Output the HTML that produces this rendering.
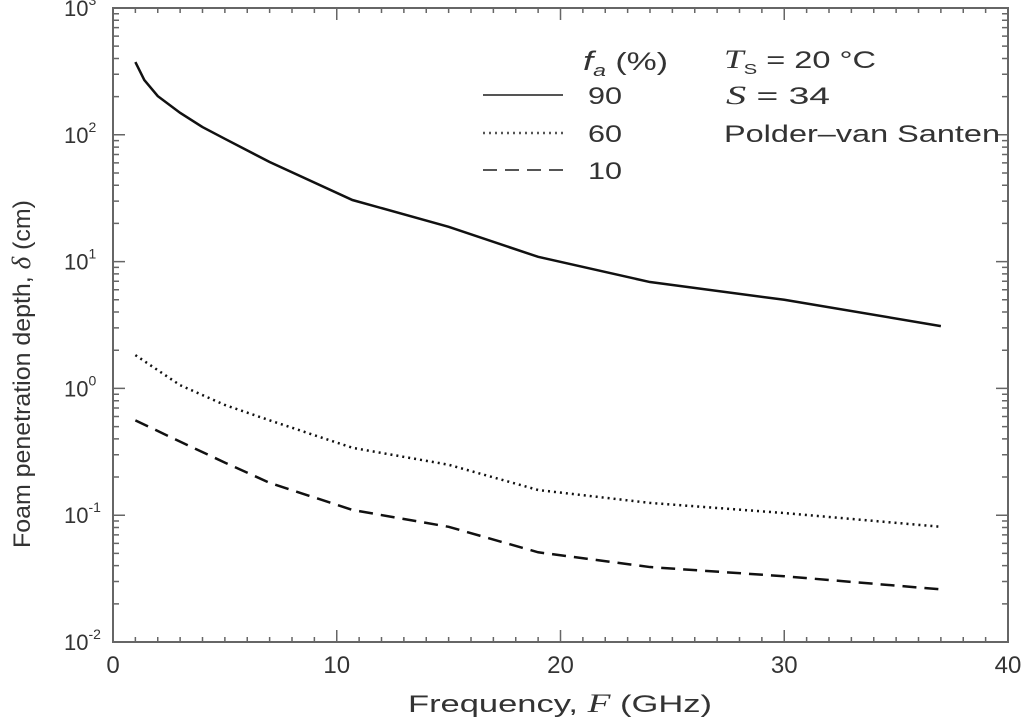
<!DOCTYPE html>
<html><head><meta charset="utf-8"><style>
body{margin:0;background:#fff;}
text{font-family:"Liberation Sans",sans-serif;fill:#333;}
</style></head><body>
<svg id="chart" width="1024" height="723" xmlns="http://www.w3.org/2000/svg">
<g id="axes"></g>
<g id="series"></g>
<g id="legend">
 <text x="583" y="70" font-size="27" font-family="Liberation Serif" font-style="italic" textLength="85" lengthAdjust="spacingAndGlyphs">f<tspan font-size="17" dy="6">a</tspan><tspan dy="-6" font-style="normal" font-family="Liberation Sans" font-size="25"> (%)</tspan></text>
 <line x1="483" y1="95" x2="563" y2="95" stroke="#555" stroke-width="2"/>
 <text x="588" y="104" font-size="24" textLength="34" lengthAdjust="spacingAndGlyphs">90</text>
 <line x1="483" y1="133" x2="563" y2="133" stroke="#555" stroke-width="2.5" stroke-dasharray="2,4"/>
 <text x="588" y="142" font-size="24" textLength="34" lengthAdjust="spacingAndGlyphs">60</text>
 <line x1="483" y1="170" x2="563" y2="170" stroke="#555" stroke-width="2" stroke-dasharray="14,8"/>
 <text x="588" y="179" font-size="24" textLength="34" lengthAdjust="spacingAndGlyphs">10</text>
 <text x="724" y="68" font-size="24" textLength="152" lengthAdjust="spacingAndGlyphs"><tspan font-family="Liberation Serif" font-style="italic" font-size="26">T</tspan><tspan font-size="15" dy="6">S</tspan><tspan dy="-6"> = 20 °C</tspan></text>
 <text x="726" y="104" font-size="24" textLength="104" lengthAdjust="spacingAndGlyphs"><tspan font-family="Liberation Serif" font-style="italic" font-size="26">S</tspan> = 34</text>
 <text x="724" y="142" font-size="24" textLength="276" lengthAdjust="spacingAndGlyphs">Polder–van Santen</text>
</g>
<text x="408" y="712" font-size="24" textLength="304" lengthAdjust="spacingAndGlyphs">Frequency,  <tspan font-family="Liberation Serif" font-style="italic" font-size="26">F</tspan> (GHz)</text>
<text transform="translate(30,548) rotate(-90)" x="0" y="0" font-size="24" textLength="348" lengthAdjust="spacingAndGlyphs">Foam penetration depth, <tspan font-family="Liberation Serif" font-style="italic" font-size="26">δ</tspan> (cm)</text>
</svg>
<script>
const freq=[1,1.4,2,3,4,5,7,10.7,15,19,24,30,37];
const fa90=[375,270,202,149,115,93,61,30.6,18.8,10.9,6.9,5.0,3.1];
const freqLow=[1,3,5,7,10.7,15,19,24,30,37];
const fa60=[1.83,1.06,0.74,0.56,0.34,0.25,0.158,0.125,0.104,0.081];
const fa10=[0.56,0.38,0.26,0.18,0.11,0.081,0.051,0.039,0.033,0.026];
const xTicks=[0,10,20,30,40];
const yExps=[-2,-1,0,1,2,3];
const X0=113,X1=1008,Y0=642,Y1=8;
const sx=v=>X0+(v-0)/40*(X1-X0);
const sy=v=>Y0-(Math.log10(v)+2)/5*(Y0-Y1);
const NS="http://www.w3.org/2000/svg";
const ax=document.getElementById('axes'),se=document.getElementById('series');
function mk(tag,attrs,parent){const e=document.createElementNS(NS,tag);for(const k in attrs)e.setAttribute(k,attrs[k]);parent.appendChild(e);return e;}
const frame=mk('rect',{x:X0,y:Y1,width:X1-X0,height:Y0-Y1,fill:'none',stroke:'#666','stroke-width':2},ax);


let d='';
for(let v=0;v<=40;v++){const x=sx(v),L=v%10===0?12:5;d+=`M${x},${Y0}v${-L}M${x},${Y1}v${L}`;}
for(let e=-2;e<3;e++)for(let m=1;m<10;m++){const y=sy(m*Math.pow(10,e)),L=m===1?12:6;d+=`M${X0},${y}h${L}M${X1},${y}h${-L}`;}
const tk=mk('path',{d:d,stroke:'#666','stroke-width':1.5,fill:'none'},ax);


xTicks.forEach(v=>{const t=mk('text',{x:sx(v),y:673,'font-size':24,'text-anchor':'middle'},ax);t.textContent=v;

});
yExps.forEach(e=>{const t=mk('text',{x:64,y:sy(Math.pow(10,e))+8,'font-size':22},ax);t.textContent='10';
const s=mk('tspan',{'font-size':14,dy:-11},t);s.textContent=e;

});
function line(xs,ys,dash,w,name){const p=mk('polyline',{points:xs.map((x,i)=>sx(x)+','+sy(ys[i])).join(' '),fill:'none',stroke:'#111','stroke-width':w,'stroke-dasharray':dash},se);

}
line(freq,fa90,'none',2.5,'line-fa-90');
line(freqLow,fa60,'2,4',2.5,'line-fa-60');
line(freqLow,fa10,'14,8',2.5,'line-fa-10');
</script>
</body></html>
